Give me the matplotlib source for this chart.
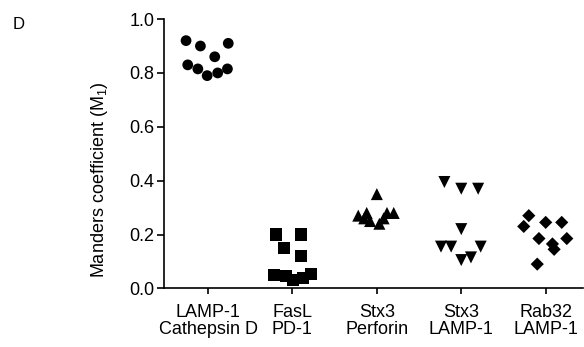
import matplotlib
matplotlib.use("Agg")
import matplotlib.pyplot as plt
import numpy as np

plt.rcParams['font.family'] = ['Liberation Sans', 'DejaVu Sans']

categories = ["LAMP-1\nCathepsin D", "FasL\nPD-1", "Stx3\nPerforin", "Stx3\nLAMP-1", "Rab32\nLAMP-1"]

# scatter offsets (jitter as in the picture) and Manders values per group
lamp_dx = [-0.26, -0.09, 0.24, 0.08, -0.24, -0.12, -0.01, 0.115, 0.23]
lamp_y = [0.92, 0.90, 0.91, 0.86, 0.83, 0.815, 0.79, 0.80, 0.815]

fasl_dx = [-0.20, 0.10, -0.10, 0.10, -0.22, -0.08, 0.01, 0.13, 0.22]
fasl_y = [0.20, 0.20, 0.15, 0.12, 0.05, 0.045, 0.03, 0.04, 0.055]

perf_dx = [-0.22, -0.12, -0.15, -0.08, 0.0, 0.03, 0.08, 0.12, 0.20]
perf_y = [0.27, 0.28, 0.26, 0.25, 0.35, 0.24, 0.26, 0.28, 0.28]

stxl_dx = [-0.20, 0.0, 0.20, 0.0, -0.24, -0.12, 0.23, 0.0, 0.115]
stxl_y = [0.395, 0.37, 0.37, 0.22, 0.155, 0.155, 0.155, 0.105, 0.115]

rab_dx = [-0.20, -0.26, 0.0, 0.19, -0.08, 0.08, 0.10, 0.25, -0.10]
rab_y = [0.27, 0.23, 0.245, 0.245, 0.185, 0.165, 0.145, 0.185, 0.09]

groups = [(lamp_dx, lamp_y, 'o', 60), (fasl_dx, fasl_y, 's', 75),
          (perf_dx, perf_y, '^', 75), (stxl_dx, stxl_y, 'v', 75),
          (rab_dx, rab_y, 'D', 45)]

fig = plt.figure(figsize=(5.84, 3.47), dpi=100)
ax = fig.add_axes([0.281, 0.169, 0.717, 0.776])

for i, (dx, y, m, s) in enumerate(groups):
    x = i + 1 + np.array(dx)
    ax.scatter(x, y, marker=m, s=s, color='black', edgecolors='none', zorder=3)

ax.set_xlim(0.48, 5.44)
ax.set_ylim(0, 1.0)
ax.set_yticks(np.arange(0, 1.01, 0.2))
ax.set_yticklabels(["0.0", "0.2", "0.4", "0.6", "0.8", "1.0"])
ax.set_xticks(range(1, 6))
ax.set_xticklabels(categories, fontsize=13, linespacing=1.0)
ax.tick_params(axis='y', labelsize=13, length=5, width=1.2, direction='out', pad=2)
ax.tick_params(axis='x', length=4.5, width=1.2, direction='out', pad=7)

for side in ['top', 'right']:
    ax.spines[side].set_visible(False)
for side in ['left', 'bottom']:
    ax.spines[side].set_linewidth(1.2)

ax.set_ylabel(r"Manders coefficient (M$_\mathregular{1}$)", fontsize=13)
ax.yaxis.set_label_coords(-0.129, 0.405)

fig.text(0.022, 0.928, "D", fontsize=12, va='center')

fig.savefig("out.png", dpi=100)
